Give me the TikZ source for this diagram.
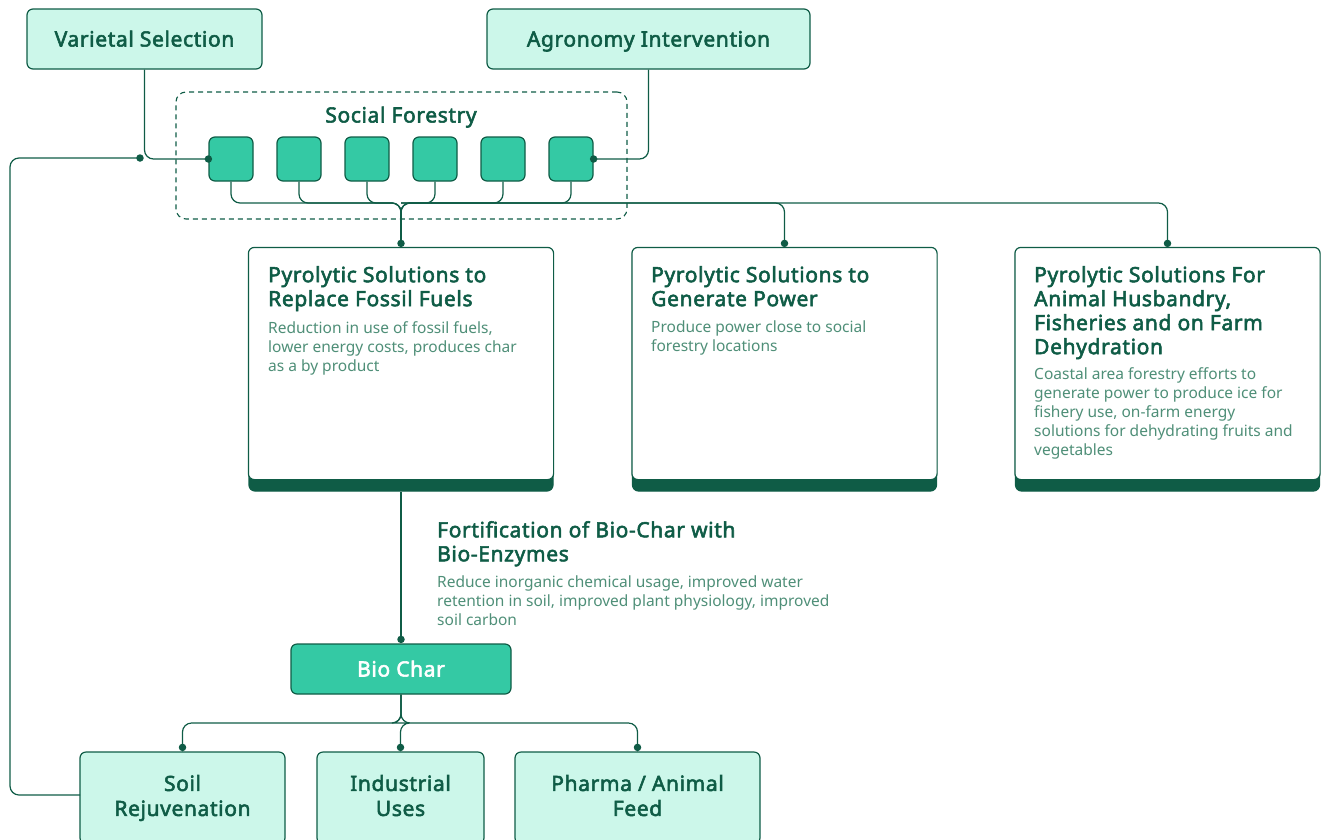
\documentclass[tikz,border=0pt]{standalone}
\usepackage{fontspec}
\setmainfont{Noto Sans}[BoldFont={Noto Sans}, BoldFeatures={FakeBold=2.6, LetterSpace=3}]
\usetikzlibrary{calc}
\definecolor{dk}{HTML}{0F5C46}
\definecolor{lt}{HTML}{CCF7EA}
\definecolor{md}{HTML}{34C9A4}
\definecolor{dsc}{HTML}{4F8F78}
\newcommand{\ttlfont}{\fontsize{21}{24}\selectfont\bfseries}
\newcommand{\dscfont}{\fontsize{15.5}{19}\selectfont}
\begin{document}
\begin{tikzpicture}[x=1pt,y=-1pt,
  lightbox/.style={draw=dk, fill=lt, line width=1.2pt, rounded corners=6pt, inner sep=0pt,
    font=\ttlfont, text=dk, align=center},
  oneline/.style={text height=15pt, text depth=0pt},
  seed/.style={draw=dk, fill=md, line width=1.2pt, rounded corners=6pt, inner sep=0pt,
    minimum width=44pt, minimum height=44pt},
  cardbox/.style={draw=dk, fill=dk, line width=1.2pt, rounded corners=6pt, inner sep=0pt,
    minimum width=304pt, minimum height=243pt},
  cardtitle/.style={anchor=north west, inner sep=0pt, align=left, font=\ttlfont, text=dk},
  carddesc/.style={anchor=north west, inner sep=0pt, align=left, font=\dscfont, text=dsc},
  conn/.style={draw=dk, line width=1.2pt, rounded corners=9pt},
  dot/.style={circle, fill=dk, inner sep=0pt, minimum size=7.5pt}
]
\useasboundingbox (0,0) rectangle (1325,839);

% top inputs
\node[lightbox, oneline, minimum width=235pt, minimum height=60pt] (vs) at (144.5,39) {Varietal Selection};
\node[lightbox, oneline, minimum width=323pt, minimum height=60pt] (ag) at (648.5,39) {Agronomy Intervention};

% social forestry group
\node[draw=dk, dash pattern=on 5pt off 4pt, line width=1.1pt, rounded corners=10pt, minimum width=451pt,
  minimum height=127pt, inner sep=0pt] (sf) at (401.5,155.5) {};
\node[font=\ttlfont, text=dk, inner sep=0pt, oneline] (sft) at (401,115) {Social Forestry};
\foreach \i in {1,...,6}{
  \node[seed] (s\i) at ({231+68*(\i-1)},159) {};
}

% cards
\coordinate (bus) at (401,203);
\node[cardbox] (p1) at (401,369.5) {};
\node[cardbox] (p2) at (784.5,369.5) {};
\node[cardbox] (p3) at (1167.5,369.5) {};
\foreach \p in {p1,p2,p3}{
  \draw[draw=dk, fill=white, line width=1.2pt, rounded corners=6pt]
    (\p.north west) rectangle ($(\p.south east)+(0,-12)$);
}

\node[cardtitle] (p1t) at (268,266) {Pyrolytic Solutions to\\Replace Fossil Fuels};
\node[carddesc] (p1d) at (268,321) {Reduction in use of fossil fuels,\\lower energy costs, produces char\\as a by product};

\node[cardtitle] (p2t) at (651,266) {Pyrolytic Solutions to\\Generate Power};
\node[carddesc] (p2d) at (651,321) {Produce power close to social\\forestry locations};

\node[cardtitle] (p3t) at (1034,266) {Pyrolytic Solutions For\\Animal Husbandry,\\Fisheries and on Farm\\Dehydration};
\node[carddesc] (p3d) at (1034,367) {Coastal area forestry efforts to\\generate power to produce ice for\\fishery use, on-farm energy\\solutions for dehydrating fruits and\\vegetables};

% fortification note
\node[cardtitle] (ft) at (437,521) {Fortification of Bio-Char with\\Bio-Enzymes};
\node[carddesc] (fd) at (437,576) {Reduce inorganic chemical usage, improved water\\retention in soil, improved plant physiology, improved\\soil carbon};

% bio char and uses
\node[lightbox, oneline, fill=md, text=white, minimum width=220pt, minimum height=50pt] (bc) at (401,669) {Bio Char};
\node[lightbox, minimum width=205pt, minimum height=92pt] (soil) at (182.5,798) {Soil\\[1pt]Rejuvenation\vphantom{Rj}};
\node[lightbox, minimum width=167pt, minimum height=92pt] (ind) at (400.5,798) {Industrial\\[1pt]Uses\vphantom{Rj}};
\node[lightbox, minimum width=245pt, minimum height=92pt] (ph) at (637.5,798) {Pharma / Animal\\[1pt]Feed\vphantom{Rj}};

% connectors: inputs to the plantation row
\coordinate (vsturn) at (140,158);
\coordinate (loopstart) at (80,795);
\draw[conn] (vs.south) |- (s1.west);
\node[dot] at (s1.west) {};
\draw[conn] (ag.south) |- (s6.east);
\node[dot] at (s6.east) {};
\draw[conn] (loopstart) -| (10,158) -- (vsturn);
\node[dot] at (vsturn) {};

% plantation row to the cards
\foreach \i in {1,...,6}{
  \draw[conn] (s\i.south) |- (bus) -- (p1.north);
}
\draw[conn] (bus) -- (p2.north |- bus) -- (p2.north);
\draw[conn] (bus) -- (p3.north |- bus) -- (p3.north);
\foreach \p in {p1,p2,p3}{
  \node[dot] at ($(\p.north)+(0,-4)$) {};
}

% fuel card to bio char
\draw[conn] (p1.south) -- (bc.north);
\node[dot] at ($(bc.north)+(0,-4)$) {};

% bio char to uses
\coordinate (fork) at (401,723);
\foreach \u in {soil,ind,ph}{
  \draw[conn] (bc.south) -- (fork) -| (\u.north);
  \node[dot] at ($(\u.north)+(0,-4)$) {};
}
\end{tikzpicture}
\end{document}
